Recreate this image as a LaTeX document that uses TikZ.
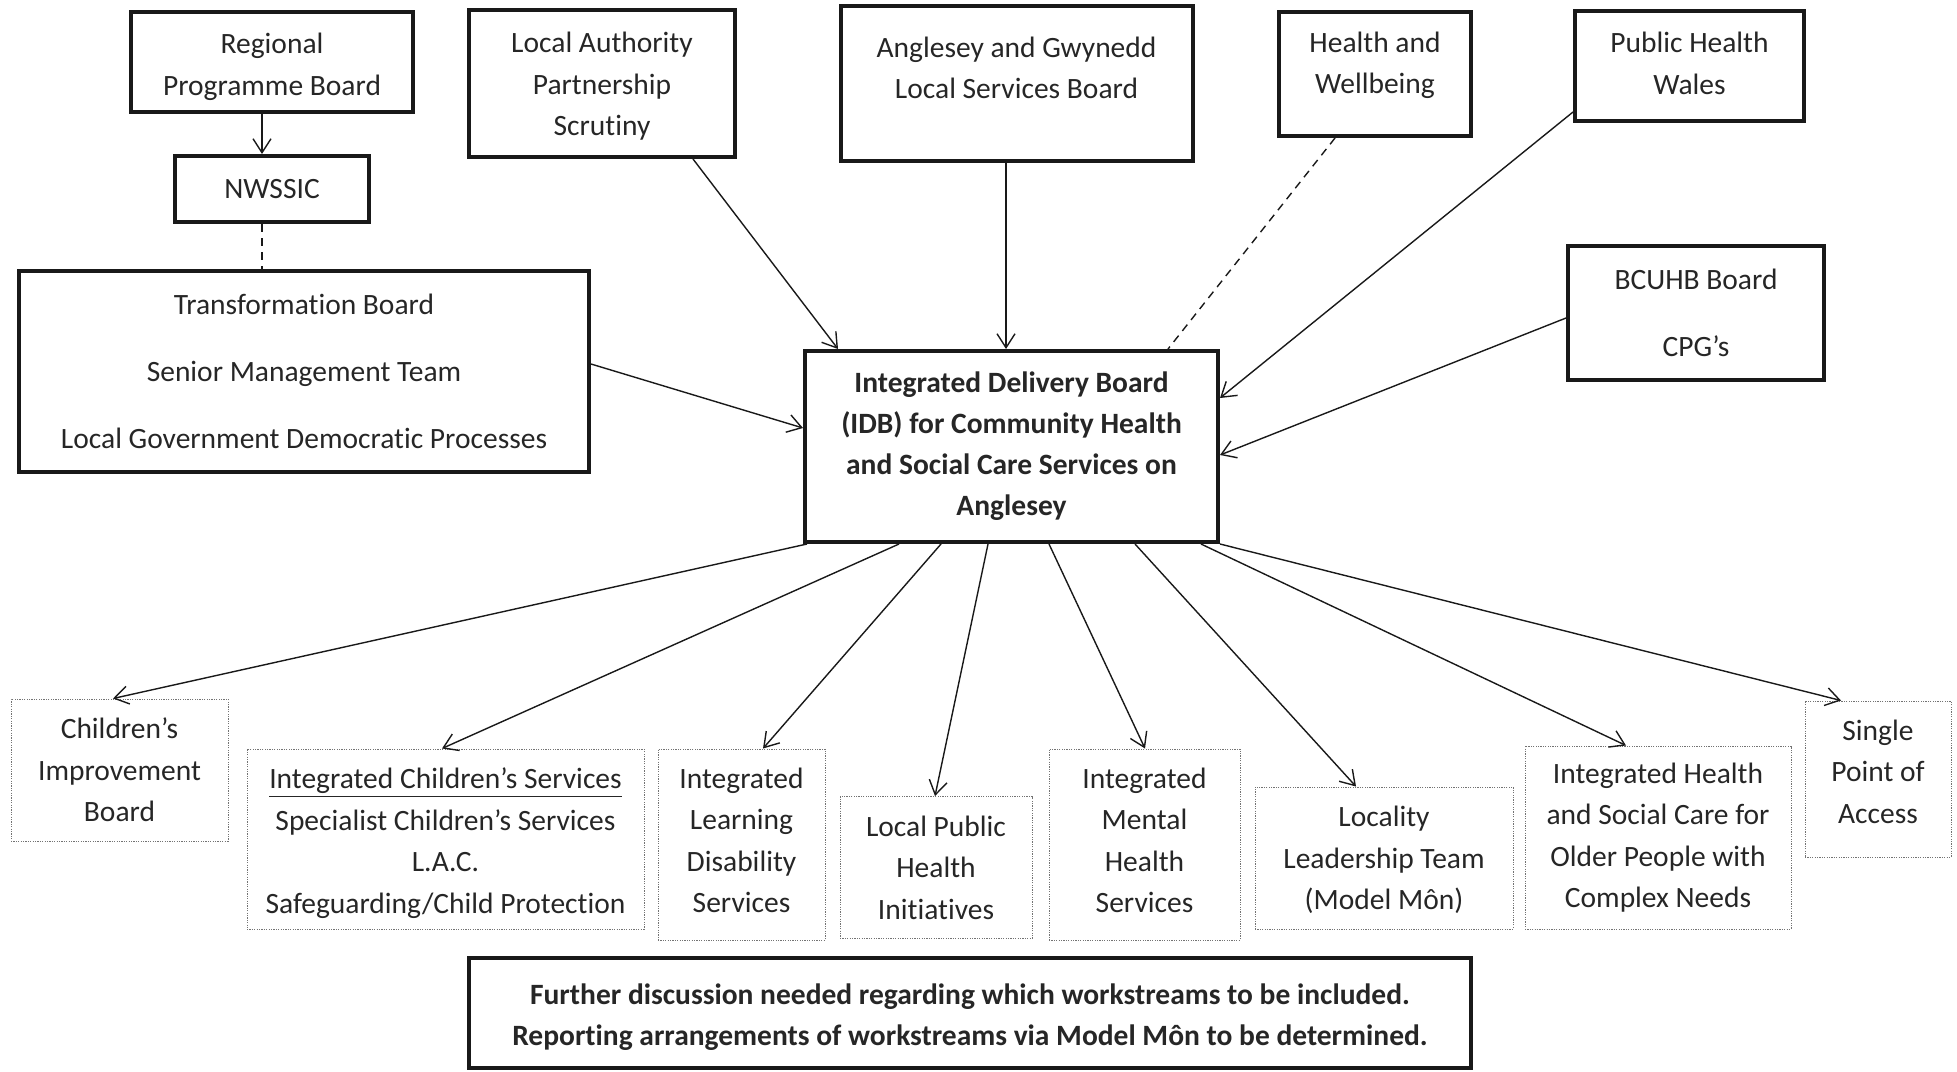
\documentclass[tikz,border=0pt]{standalone}
\usepackage{fontspec}
\setmainfont[Ligatures=NoCommon]{Carlito}
\usetikzlibrary{arrows.meta}
\begin{document}
\begin{tikzpicture}[x=0.5pt,y=-0.5pt,
  every node/.style={font=\fontsize{14.75}{20.75}\selectfont, text=black!85},
  thickbox/.style={draw=black!90, line width=2pt, inner sep=0pt, align=center},
  dotbox/.style={draw=black!55, line width=0.5pt, dash pattern=on 0.6pt off 0.6pt, inner sep=0pt, align=center},
  txt/.style={inner sep=0pt, align=center},
  boldtxt/.style={inner sep=0pt, align=center, font=\fontsize{14.75}{20.5}\selectfont\bfseries},
  arr/.style={-{Straight Barb[length=7pt,width=9pt]}, line width=0.7pt, draw=black!90},
  dashline/.style={line width=0.7pt, dash pattern=on 4pt off 3pt, draw=black!90}]
\useasboundingbox (0,0) rectangle (1957,1071);
% top boxes
\node[thickbox, minimum width=141pt, minimum height=50pt] (rpb) at (272,62) {};
\node[txt] (rpbt) at (272,67) {Regional\\Programme Board};
\node[thickbox, minimum width=97pt, minimum height=33pt] (nwssic) at (272,189) {NWSSIC};
\node[thickbox, minimum width=285pt, minimum height=100.5pt] (tb) at (304,371.5) {Transformation Board\\[12.75pt]Senior Management Team\\[12.75pt]Local Government Democratic Processes};
\node[thickbox, minimum width=133pt, minimum height=73.5pt] (laps) at (602,83.5) {};
\node[txt] (lapst) at (602,86.5) {Local Authority\\Partnership\\Scrutiny};
\node[thickbox, minimum width=176pt, minimum height=77.5pt] (agl) at (1016.5,83.5) {};
\node[txt] (aglt) at (1016.5,68) {Anglesey and Gwynedd\\Local Services Board};
\node[thickbox, minimum width=96pt, minimum height=62pt] (hw) at (1375,74) {};
\node[txt] (hwt) at (1375,65.5) {Health and\\Wellbeing};
\node[thickbox, minimum width=114.5pt, minimum height=55pt] (phw) at (1689.5,66) {};
\node[txt] (phwt) at (1689.5,63.5) {Public Health\\Wales};
\node[thickbox, minimum width=128pt, minimum height=67pt] (bcuhb) at (1696,313) {BCUHB Board\\[12.75pt]CPG’s};
\node[thickbox, minimum width=206.5pt, minimum height=95.5pt, font=\fontsize{14.75}{20.5}\selectfont\bfseries] (idb) at (1011.5,446.5) {Integrated Delivery Board\\(IDB) for Community Health\\and Social Care Services on\\Anglesey};
% bottom boxes
\node[dotbox, minimum width=108.5pt, minimum height=71pt] (cib) at (119.5,770) {Children’s\\Improvement\\Board};
\node[dotbox, minimum width=198.5pt, minimum height=90pt] (ics) at (445.5,839) {};
\node[txt] (icst) at (445.5,843) {\underline{Integrated Children’s Services}\\Specialist Children’s Services\\L.A.C.\\Safeguarding/Child Protection};
\node[dotbox, minimum width=83.5pt, minimum height=95.5pt] (ild) at (741.5,844.5) {};
\node[txt] (ildt) at (741.5,840.5) {Integrated\\Learning\\Disability\\Services};
\node[dotbox, minimum width=96pt, minimum height=71pt] (lph) at (936,867.5) {Local Public\\Health\\Initiatives};
\node[dotbox, minimum width=95.5pt, minimum height=95.5pt] (imh) at (1144.5,844.5) {};
\node[txt] (imht) at (1144.5,840.5) {Integrated\\Mental\\Health\\Services};
\node[dotbox, minimum width=129pt, minimum height=71pt] (llt) at (1384,858) {};
\node[txt] (lltt) at (1384,860) {Locality\\Leadership Team\\(Model Môn)};
\node[dotbox, minimum width=133pt, minimum height=91.5pt] (ihsc) at (1658,837.5) {Integrated Health\\and Social Care for\\Older People with\\Complex Needs};
\node[dotbox, minimum width=73pt, minimum height=78pt] (spa) at (1878,779) {};
\node[txt] (spat) at (1878,771.5) {Single\\Point of\\Access};
\node[thickbox, minimum width=501pt, minimum height=55pt] (note) at (970,1013) {};
\node[boldtxt] (notet) at (970,1017) {Further discussion needed regarding which workstreams to be included.\\Reporting arrangements of workstreams via Model Môn to be determined.};
% connectors top
\draw[arr] (262,0 |- rpb.south) -- (262,0 |- nwssic.north);
\draw[dashline] (262,0 |- nwssic.south) -- (262,0 |- tb.north);
\draw[arr] (tb.east |- 0,364) -- (idb.west |- 0,428);
\draw[arr] (693,0 |- laps.south) -- (838,0 |- idb.north);
\draw[arr] (1006,0 |- agl.south) -- (1006,0 |- idb.north);
\draw[dashline] (1335,0 |- hw.south) -- (1168,0 |- idb.north);
\draw[arr] (phw.west |- 0,112) -- (idb.east |- 0,398);
\draw[arr] (bcuhb.west |- 0,318) -- (idb.east |- 0,455);
% connectors bottom
\draw[arr] (807,0 |- idb.south) -- (113,0 |- cib.north);
\draw[arr] (899,0 |- idb.south) -- (442,0 |- ics.north);
\draw[arr] (941,0 |- idb.south) -- (763,0 |- ild.north);
\draw[arr] (988,0 |- idb.south) -- (935,0 |- lph.north);
\draw[arr] (1049,0 |- idb.south) -- (1145,0 |- imh.north);
\draw[arr] (1135,0 |- idb.south) -- (1356,0 |- llt.north);
\draw[arr] (1201,0 |- idb.south) -- (1626,0 |- ihsc.north);
\draw[arr] (idb.south east) -- (1841,0 |- spa.north);
\end{tikzpicture}
\end{document}
